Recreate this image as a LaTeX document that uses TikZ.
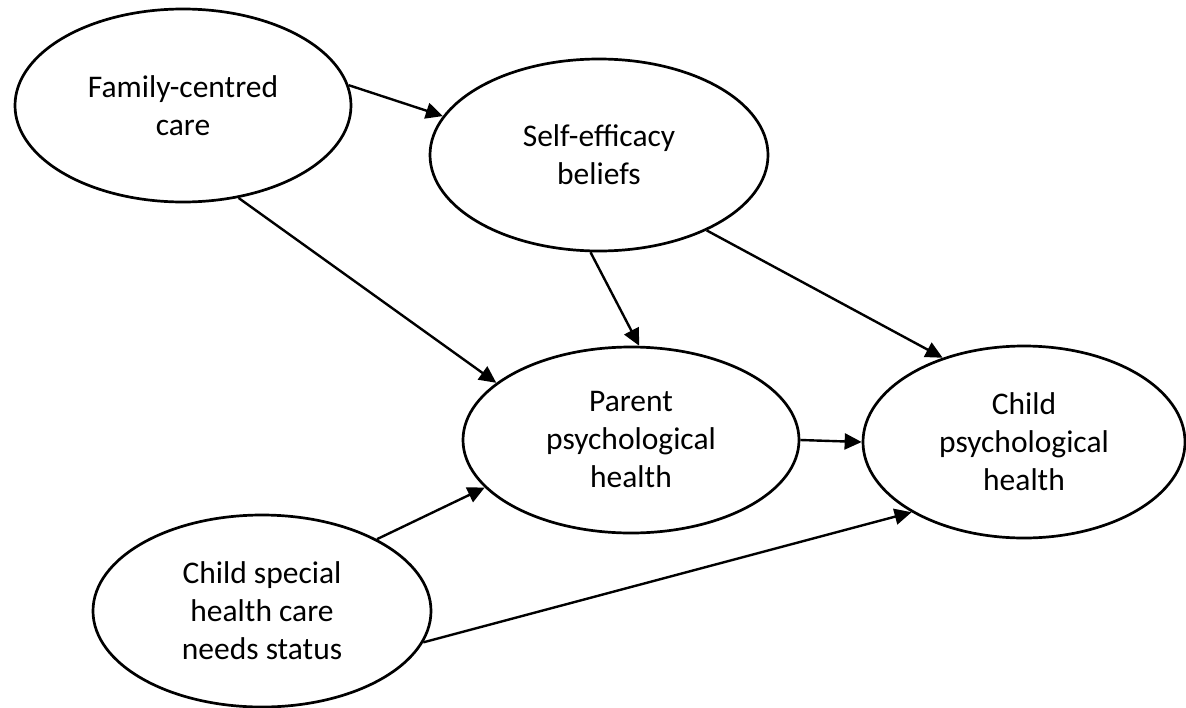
\documentclass[tikz,border=0pt]{standalone}
\usepackage{fontspec}
\setmainfont{Carlito}
\usetikzlibrary{arrows.meta,shapes.geometric}
\begin{document}
\begin{tikzpicture}[x=1pt,y=-1pt,
  var/.style={ellipse,draw,line width=2.7pt,inner sep=0pt,align=center,
    font=\fontsize{31.5}{38}\selectfont},
  link/.style={line width=2.4pt,-{Triangle[length=17pt,width=16pt]}}]
\useasboundingbox (0,0) rectangle (1186,707);
\node[var,minimum width=336pt,minimum height=193pt] (F) at (183,105.5) {Family-centred\\care};
\node[var,minimum width=338pt,minimum height=192pt] (S) at (599,155) {Self-efficacy\\beliefs};
\node[var,minimum width=336pt,minimum height=186pt] (P) at (631,440) {Parent\\psychological\\health};
\node[var,minimum width=322pt,minimum height=192pt] (C) at (1024,442) {Child\\psychological\\health};
\node[var,minimum width=338pt,minimum height=192pt] (N) at (262,611) {Child special\\health care\\needs status};
\draw[link] (F.7.6) -- (S.166.7);
\draw[link] (F.301) -- (P.157.6);
\draw[link] (S.265.9) -- (P.85.7);
\draw[link] (S.325.8) -- (C.134);
\draw[link] (P.0) -- (C.180);
\draw[link] (N.32.9) -- (P.198);
\draw[link] (N.349.1) -- (C.212.6);
\end{tikzpicture}
\end{document}
